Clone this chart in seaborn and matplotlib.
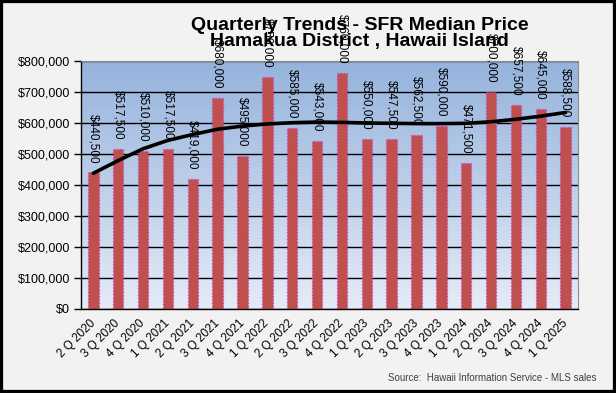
import numpy as np
import pandas as pd
import matplotlib
matplotlib.use('Agg')
import matplotlib.pyplot as plt
from matplotlib.colors import LinearSegmentedColormap
from matplotlib.patches import Rectangle
import seaborn as sns

# quarterly median prices
quarters = ['2 Q 2020', '3 Q 2020', '4 Q 2020', '1 Q 2021', '2 Q 2021', '3 Q 2021',
            '4 Q 2021', '1 Q 2022', '2 Q 2022', '3 Q 2022', '4 Q 2022', '1 Q 2023',
            '2 Q 2023', '3 Q 2023', '4 Q 2023', '1 Q 2024', '2 Q 2024', '3 Q 2024',
            '4 Q 2024', '1 Q 2025']
prices = [440500, 517500, 510000, 517500, 419000, 680000, 495000, 750000, 585000, 543000,
          760000, 550000, 547500, 562500, 590000, 471500, 700000, 657500, 645000, 588500]
# trend line
trend = [438000, 479000, 517000, 544000, 563000, 580000, 590000, 597000, 601000, 603000,
         602000, 600000, 599000, 598000, 598000, 599000, 604000, 612000, 622000, 634000]

df = pd.DataFrame({'Quarter': quarters, 'Price': prices})

sns.set_style('white')
plt.rcParams['font.family'] = ['Liberation Sans', 'DejaVu Sans']
plt.rcParams['text.color'] = 'black'
plt.rcParams['xtick.color'] = 'black'
plt.rcParams['ytick.color'] = 'black'

fig = plt.figure(figsize=(6.16, 3.93), dpi=100, facecolor='#f2f2f2')
ax = fig.add_axes([81 / 616, 1 - 309 / 393, 497 / 616, 248 / 393])

# gradient plot area (darker blue at the top)
grad = np.linspace(0, 1, 256).reshape(-1, 1)
cmap = LinearSegmentedColormap.from_list('bg', ['#95b3dc', '#e5ebf7'])
ax.imshow(grad, extent=[-0.5, len(quarters) - 0.5, 0, 800000], origin='upper',
          aspect='auto', cmap=cmap, zorder=0)

sns.barplot(data=df, x='Quarter', y='Price', color='#c0504d', saturation=1, width=0.42,
            edgecolor='#d63cc8', linestyle=':', linewidth=0.9, ax=ax, zorder=2)

sns.lineplot(x=np.arange(len(trend)), y=trend, color='black', linewidth=2.6, ax=ax, zorder=4)

for i, v in enumerate(prices):
    ax.text(i, v + 30000, f'${v:,}', rotation=-90, ha='center', va='bottom',
            fontsize=8.5, color='black', zorder=5)

ax.set_xlim(-0.5, len(quarters) - 0.5)
ax.set_ylim(0, 800000)
ax.set_yticks(np.arange(0, 800001, 100000))
ax.set_yticklabels([f'${v:,}' for v in range(0, 800001, 100000)], fontsize=9)
ax.yaxis.grid(True, color='black', linewidth=1)
ax.set_axisbelow(True)

ax.set_xticks(range(len(quarters)))
ax.set_xticklabels(quarters, rotation=45, ha='right', va='center', rotation_mode='anchor',
                   fontsize=8.5)
ax.set_xticks(np.arange(-0.5, len(quarters), 1), minor=True)
ax.tick_params(axis='x', which='major', length=0, pad=9)
ax.tick_params(axis='x', which='minor', length=5, color='black', width=1)
ax.tick_params(axis='y', length=5, color='black', width=1, left=True, pad=3)
ax.set_xlabel('')
ax.set_ylabel('')

for s in ['left', 'bottom']:
    ax.spines[s].set_color('black')
    ax.spines[s].set_linewidth(1)
for s in ['top', 'right']:
    ax.spines[s].set_color('#8c8c8c')
    ax.spines[s].set_linewidth(0.8)

fig.text(0.584, 0.915, 'Quarterly Trends - SFR Median Price\nHamakua District , Hawaii Island',
         ha='center', va='center', fontsize=14, fontweight='bold', linespacing=0.95,
         color='black', zorder=1)
fig.text(597 / 616, 1 - 378 / 393, 'Source:  Hawaii Information Service - MLS sales',
         ha='right', va='center', fontsize=7, color='#404040')

fig.patches.append(Rectangle((0, 0), 1, 1, transform=fig.transFigure, fill=False,
                             edgecolor='black', linewidth=4.5))

fig.savefig('out.png', dpi=100, facecolor=fig.get_facecolor())
